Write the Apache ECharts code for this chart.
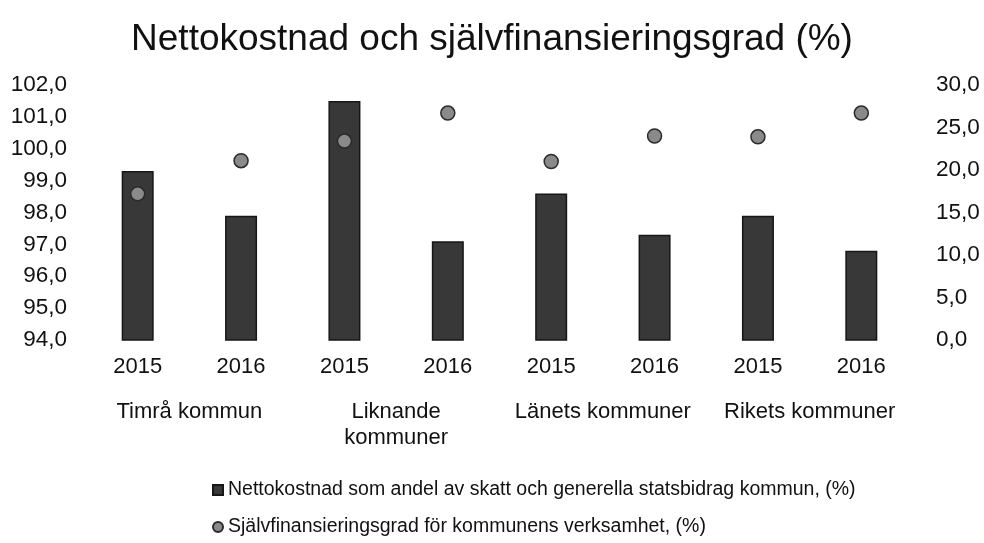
<!DOCTYPE html>
<html>
<head>
<meta charset="utf-8">
<script src="https://cdn.jsdelivr.net/npm/echarts@6/dist/echarts.min.js"></script>
<style>
  html, body { margin: 0; padding: 0; background: #fff; }
  #chart { width: 984px; height: 543px; }
</style>
</head>
<body>
<div id="chart"></div>
<script>
// kategorier
var years = ['2015', '2016', '2015', '2016', '2015', '2016', '2015', '2016'];
var groups = ['Timrå kommun', 'Liknande\nkommuner', 'Länets kommuner', 'Rikets kommuner'];
// serier
var nettoName = 'Nettokostnad som andel av skatt och generella statsbidrag kommun, (%)';
var nettoValues = [99.3, 97.9, 101.5, 97.1, 98.6, 97.3, 97.9, 96.8];
var sjalvName = 'Självfinansieringsgrad för kommunens verksamhet, (%)';
var sjalvValues = [17.2, 21.1, 23.4, 26.7, 21.0, 24.0, 23.9, 26.7];

var FONT = "'Liberation Sans', Arial, sans-serif";

function fmt(v) {
    return v.toFixed(1).replace('.', ',');
}

function legendAt(top, name, icon) {
    return {
        left: 212,
        top: top,
        padding: 0,
        itemWidth: 10,
        itemHeight: 10,
        itemGap: 0,
        textStyle: { fontFamily: FONT, fontSize: 19.5, color: '#111' },
        data: [{ name: name, icon: icon }]
    };
}

var box = echarts.init(document.getElementById('chart'));
var option = {
    animation: false,
    backgroundColor: '#fff',
    textStyle: { fontFamily: FONT, color: '#111' },
    title: {
        text: 'Nettokostnad och självfinansieringsgrad (%)',
        left: 'center',
        top: 16,
        textStyle: { fontFamily: FONT, fontSize: 37, fontWeight: 'normal', color: '#111' }
    },
    legend: [
        legendAt(480, nettoName, 'rect'),
        legendAt(517, sjalvName, 'circle')
    ],
    grid: {
        left: 86,
        right: 71,
        top: 85,
        bottom: 203
    },
    xAxis: [
        {
            type: 'category',
            data: years,
            position: 'bottom',
            axisLine: { show: false },
            axisTick: { show: false },
            axisLabel: { margin: 16, fontSize: 22, color: '#111', fontFamily: FONT }
        },
        {
            type: 'category',
            data: groups,
            position: 'bottom',
            offset: 43,
            axisLine: { show: false },
            axisTick: { show: false },
            axisLabel: { interval: 0, margin: 16, fontSize: 22, lineHeight: 26, color: '#111', fontFamily: FONT }
        }
    ],
    yAxis: [
        {
            type: 'value',
            min: 94,
            max: 102,
            interval: 1,
            axisLine: { show: false },
            axisTick: { show: false },
            splitLine: { show: false },
            axisLabel: { margin: 19, fontSize: 22.5, color: '#111', fontFamily: FONT, formatter: fmt }
        },
        {
            type: 'value',
            min: 0,
            max: 30,
            interval: 5,
            axisLine: { show: false },
            axisTick: { show: false },
            splitLine: { show: false },
            axisLabel: { margin: 23, fontSize: 22.5, color: '#111', fontFamily: FONT, formatter: fmt }
        }
    ],
    series: [
        {
            name: nettoName,
            type: 'bar',
            xAxisIndex: 0,
            yAxisIndex: 0,
            barWidth: 32,
            data: nettoValues,
            itemStyle: { color: '#383838', borderColor: '#161616', borderWidth: 1.5 }
        },
        {
            name: sjalvName,
            type: 'scatter',
            xAxisIndex: 0,
            yAxisIndex: 1,
            symbol: 'circle',
            symbolSize: 14,
            data: sjalvValues,
            itemStyle: { color: '#8a8a8a', borderColor: '#2a2a2a', borderWidth: 1.5, opacity: 1 }
        }
    ]
};
box.setOption(option);
</script>
</body>
</html>
